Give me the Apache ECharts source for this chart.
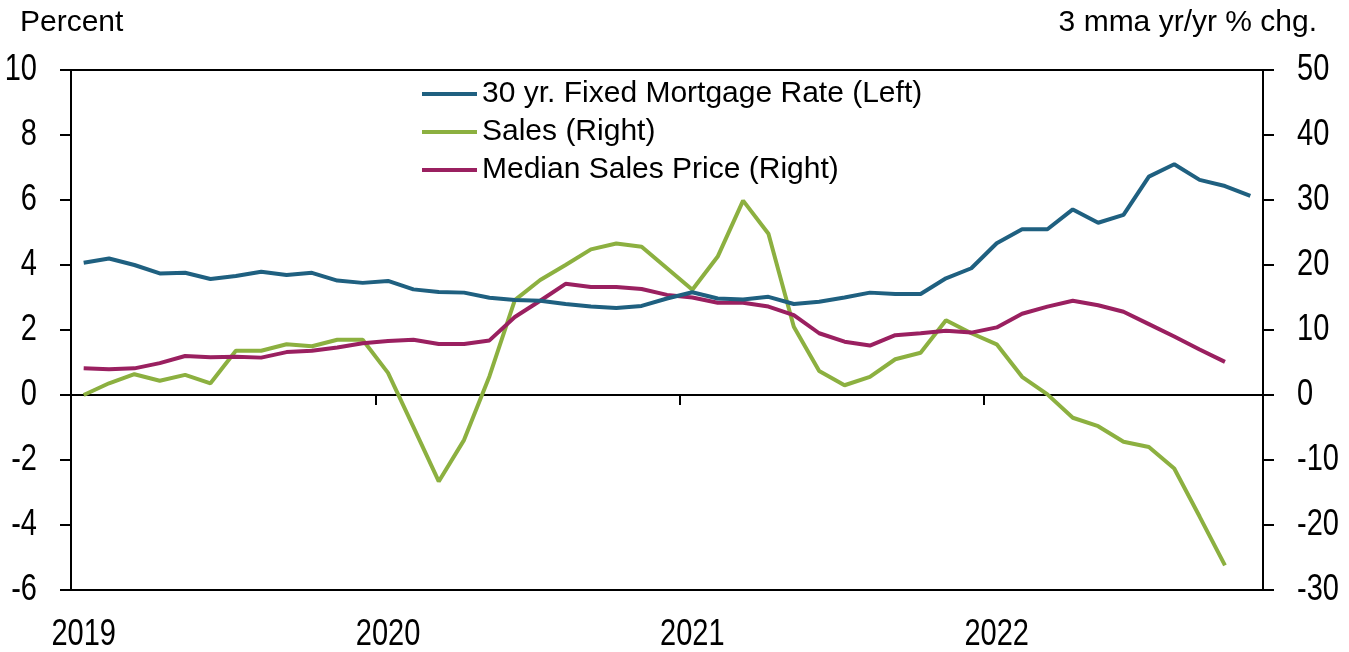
<!DOCTYPE html>
<html>
<head>
<meta charset="utf-8">
<script src="https://cdn.jsdelivr.net/npm/echarts@6/dist/echarts.min.js"></script>
<style>
html,body{margin:0;padding:0;background:#fff;}
#chart{width:1349px;height:652px;}
</style>
</head>
<body>
<div id="chart"></div>
<script>
// Monthly categories Jan 2019 .. Nov 2022
const years = ['2019','2020','2021','2022'];
const monthNums = ['01','02','03','04','05','06','07','08','09','10','11','12'];
const categories = [];
years.forEach(function(y){ monthNums.forEach(function(m){ categories.push(y + '-' + m); }); });
categories.length = 47;

// 30 yr. Fixed Mortgage Rate (Left, percent)
const mortgage = [4.07,4.20,4.00,3.74,3.76,3.57,3.66,3.79,3.69,3.76,3.52,3.45,
  3.51,3.25,3.17,3.15,2.99,2.92,2.90,2.80,2.72,2.68,2.74,2.97,
  3.16,2.97,2.94,3.02,2.80,2.87,3.00,3.15,3.11,3.11,3.59,3.90,
  4.67,5.10,5.10,5.71,5.30,5.54,6.72,7.10,6.62,6.43,6.13];

// Sales (Right, 3 mma yr/yr % chg.)
const sales = [0,1.8,3.2,2.2,3.1,1.8,6.8,6.8,7.8,7.5,8.5,8.5,
  3.4,-4.9,-13.3,-6.9,2.9,14.6,17.7,20.0,22.4,23.3,22.8,19.5,
  16.2,21.3,29.9,24.8,10.5,3.7,1.5,2.8,5.5,6.5,11.5,9.5,
  7.8,2.8,0.1,-3.5,-4.8,-7.2,-8.0,-11.3,-18.7,-26.2,null];

// Median Sales Price (Right, 3 mma yr/yr % chg.)
const price = [4.1,3.95,4.1,4.9,6.0,5.8,5.9,5.75,6.6,6.8,7.3,7.95,
  8.3,8.5,7.85,7.85,8.4,12.0,14.5,17.1,16.6,16.6,16.3,15.4,
  15.0,14.2,14.2,13.6,12.3,9.5,8.2,7.6,9.2,9.5,9.9,9.6,
  10.4,12.5,13.6,14.5,13.8,12.8,10.9,9.0,7.0,5.1,null];

// Tick labels
const leftTicks = [-6,-4,-2,0,2,4,6,8,10];
const rightTicks = [-30,-20,-10,0,10,20,30,40,50];
const yearLabels = ['2019','2020','2021','2022'];
const yearCategories = ['2019-01','2020-01','2021-01','2022-01'];

const seriesNames = ['30 yr. Fixed Mortgage Rate (Left)','Sales (Right)','Median Sales Price (Right)'];
const leftTitle = 'Percent';
const rightTitle = '3 mma yr/yr % chg.';

const mainFont = '"Liberation Sans", Arial, sans-serif';
const tickFontCss = '29px "Liberation Sans", Arial, sans-serif';
const tickScaleY = 1.25;

const chart = echarts.init(document.getElementById('chart'), null, {renderer:'canvas'});
chart.setOption({
  animation: false,
  backgroundColor: '#ffffff',
  grid: {left:71, right:86, top:70, bottom:62, show:true, borderColor:'#000', borderWidth:2, backgroundColor:'transparent'},
  legend: {
    orient:'vertical', left:417, top:74, itemWidth:55, itemHeight:4, itemGap:8, icon:'rect',
    data: seriesNames,
    textStyle:{fontSize:30, fontFamily:mainFont, color:'#000', lineHeight:30}
  },
  xAxis: [
    {
      type:'category', data:categories, position:'bottom', boundaryGap:true,
      axisLine:{show:false, onZero:false}, axisTick:{show:false}, splitLine:{show:false},
      axisLabel:{show:false}
    },
    {
      type:'category', data:categories, position:'top', boundaryGap:true,
      axisLine:{show:true, onZero:true, onZeroAxisIndex:0, lineStyle:{color:'#000', width:2}},
      axisTick:{show:true, inside:true, length:10, lineStyle:{color:'#000', width:2},
        interval:function(i){ return i > 0 && i % 12 === 0; }},
      axisLabel:{show:false}, splitLine:{show:false}
    }
  ],
  yAxis: [
    {
      type:'value', min:-6, max:10, interval:2, position:'left',
      axisLine:{show:true, lineStyle:{color:'#000', width:2}},
      axisTick:{show:true, length:11, lineStyle:{color:'#000', width:2}},
      splitLine:{show:false}, axisLabel:{show:false}
    },
    {
      type:'value', min:-30, max:50, interval:10, position:'right',
      axisLine:{show:true, lineStyle:{color:'#000', width:2}},
      axisTick:{show:true, length:11, lineStyle:{color:'#000', width:2}},
      splitLine:{show:false}, axisLabel:{show:false}
    }
  ],
  series: [
    {name:seriesNames[0], type:'line', data:mortgage, xAxisIndex:0, yAxisIndex:0, symbol:'none', z:3,
      lineStyle:{color:'#1f6080', width:4}, itemStyle:{color:'#1f6080'}},
    {name:seriesNames[1], type:'line', data:sales, xAxisIndex:0, yAxisIndex:1, symbol:'none', z:2,
      lineStyle:{color:'#8cb040', width:4}, itemStyle:{color:'#8cb040'}},
    {name:seriesNames[2], type:'line', data:price, xAxisIndex:0, yAxisIndex:1, symbol:'none', z:2,
      lineStyle:{color:'#9a2060', width:4}, itemStyle:{color:'#9a2060'}}
  ]
});

// Tick labels as real text, placed through the chart's own scales (tall, condensed look)
const graphics = [
  {type:'text', style:{text:leftTitle, x:20, y:23, fill:'#000', font:'30px ' + mainFont, align:'left', verticalAlign:'middle'}},
  {type:'text', style:{text:rightTitle, x:1317, y:23, fill:'#000', font:'30px ' + mainFont, align:'right', verticalAlign:'middle'}}
];
leftTicks.forEach(function(v){
  const py = chart.convertToPixel({yAxisIndex:0}, v);
  graphics.push({type:'text', x:37, y:py, scaleY:tickScaleY,
    style:{text:String(v), x:0, y:0, fill:'#000', font:tickFontCss, align:'right', verticalAlign:'middle'}});
});
rightTicks.forEach(function(v){
  const py = chart.convertToPixel({yAxisIndex:1}, v);
  graphics.push({type:'text', x:1297, y:py, scaleY:tickScaleY,
    style:{text:String(v), x:0, y:0, fill:'#000', font:tickFontCss, align:'left', verticalAlign:'middle'}});
});
yearCategories.forEach(function(c, k){
  const px = chart.convertToPixel({xAxisIndex:0}, c);
  graphics.push({type:'text', x:px, y:635, scaleY:tickScaleY,
    style:{text:yearLabels[k], x:0, y:0, fill:'#000', font:tickFontCss, align:'center', verticalAlign:'middle'}});
});
chart.setOption({graphic: graphics});
</script>
</body>
</html>
